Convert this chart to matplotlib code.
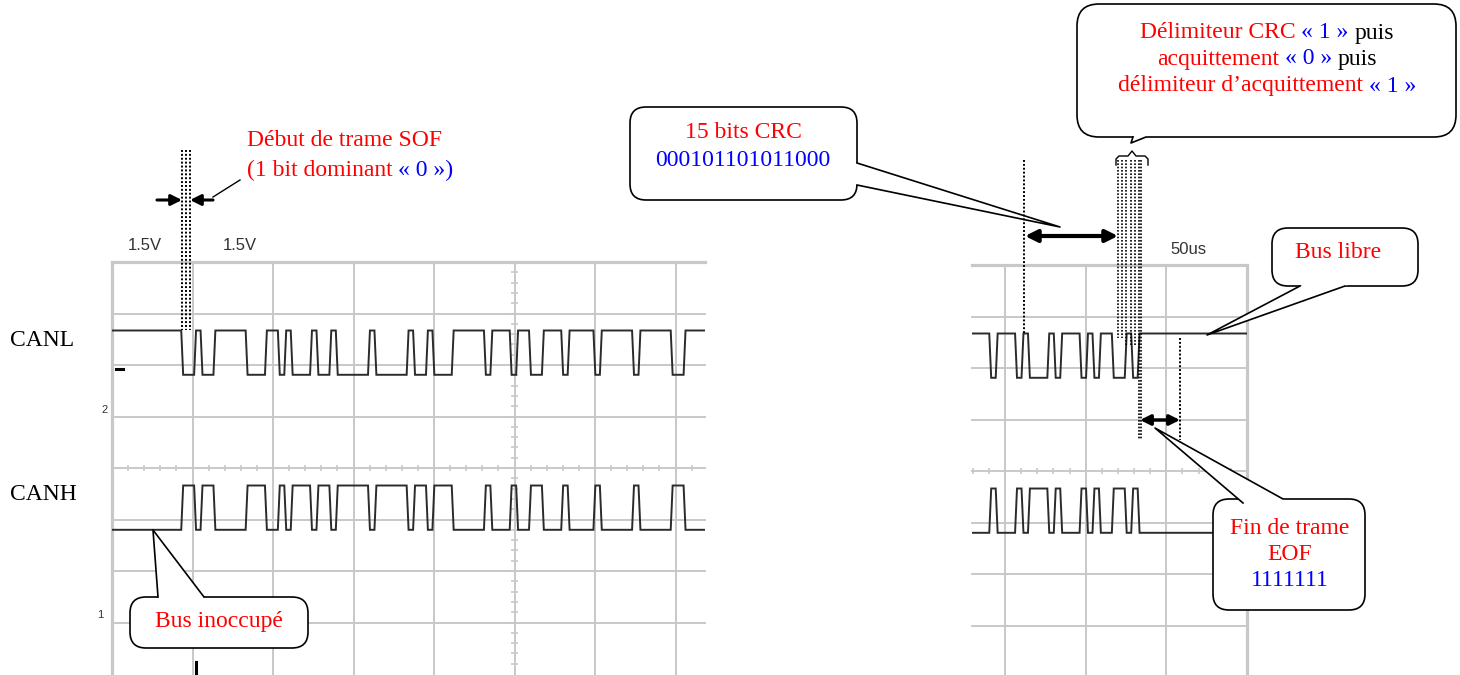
import matplotlib
matplotlib.use("Agg")
import matplotlib.pyplot as plt
import numpy as np
from matplotlib.patches import FancyBboxPatch, Polygon

# ---------------- data ----------------
US_PER_DIV = 50          # time base shown on the scope
BIT_US = 4.0             # one CAN bit
volt_labels = ["1.5V", "1.5V"]
time_label = "50us"
# logic bits (1 = recessive, 0 = dominant)
left_bits = "00 1 00 11111 000 11 0 1 000 1 00 1 00000 1 00000 1 00 1 000 11111 0 111 0 11 00 111 0 1111 0 11111 0 11111 00 111"
right_bits = "0 111 0 1 000 1 0 111 0 1 0 11 00 1 0 1111111 111"
left_sof_us = 43.0
right_start_us = 340.2
left_window_us = (0.0, 368.3)
right_window_us = (329.5, 500.0)
canl_rec, canl_dom = 6.67, 5.81     # divisions
canh_rec, canh_dom = 2.80, 3.66
crc_bits = "000101101011000"
eof_bits = "1111111"
signal_names = ["CANL", "CANH"]

# ---------------- figure ----------------
W, H = 1460, 675
fig = plt.figure(figsize=(W / 100, H / 100), dpi=100)
fig.patch.set_facecolor("white")
SERIF = ["Liberation Serif", "DejaVu Serif"]
SANS = ["Liberation Sans", "DejaVu Sans"]
GRID = "#c8c8c8"
TRACE = "#2b2b2b"
RED, BLUE = "#ff0000", "#0000ff"


def px_axes(x0, x1, ytop, ybot):
    a = fig.add_axes([x0 / W, 1 - ybot / H, (x1 - x0) / W, (ybot - ytop) / H])
    a.axis("off")
    return a


def build_trace(bits, t0, tmin, tmax, rec, dom, ramp=1.2):
    b = bits.replace(" ", "")
    ts, ys = [tmin], [rec]
    cur = rec
    for i, ch in enumerate(b):
        lv = rec if ch == "1" else dom
        t = t0 + i * BIT_US
        if lv != cur:
            ts += [t, t + ramp]
            ys += [cur, lv]
            cur = lv
    ts.append(tmax)
    ys.append(cur)
    return np.array(ts), np.array(ys)


def scope(ax, xr, ybot, borders):
    ax.set_xlim(*xr)
    ax.set_ylim(ybot, 8)
    for k in range(0, 11):
        x = k * US_PER_DIV
        if xr[0] - 1e-6 <= x <= xr[1] + 1e-6:
            lw = 2.3 if x in borders else 1.4
            ax.axvline(x, color=GRID, lw=lw, zorder=1, clip_on=False)
    for j in range(1, 9):
        lw = 2.3 if j == 8 else 1.4
        ax.axhline(j, color=GRID, lw=lw, zorder=1, clip_on=False)
    # minor ticks on centre axes
    tx = np.arange(0, 501, 10)
    tx = tx[(tx > xr[0]) & (tx < xr[1])]
    ax.vlines(tx, 4 - 0.065, 4 + 0.065, color=GRID, lw=1.2, zorder=1)
    if xr[0] < 250 < xr[1]:
        ty = np.arange(0.2, 8, 0.2)
        ax.hlines(ty, 250 - 1.9, 250 + 1.9, color=GRID, lw=1.2, zorder=1)


# left scope window
axL = px_axes(112, 705, 262, 675)
scope(axL, left_window_us, 8 - 413 / 51.5, borders=[0])
for rec, dom in [(canl_rec, canl_dom), (canh_rec, canh_dom)]:
    t, y = build_trace(left_bits, left_sof_us, left_window_us[0], left_window_us[1], rec, dom)
    axL.plot(t, y, color=TRACE, lw=1.4, zorder=3, solid_joinstyle="miter")

# right scope window
axR = px_axes(972, 1247, 265, 675)
scope(axR, right_window_us, 8 - 410 / 51.5, borders=[500])
for rec, dom in [(canl_rec, canl_dom), (canh_rec, canh_dom)]:
    t, y = build_trace(right_bits, right_start_us, right_window_us[0], right_window_us[1], rec, dom)
    axR.plot(t, y, color=TRACE, lw=1.4, zorder=3, solid_joinstyle="miter")

# ---------------- overlay in pixel coordinates ----------------
ov = fig.add_axes([0, 0, 1, 1], zorder=10)
ov.set_xlim(0, W)
ov.set_ylim(H, 0)
ov.axis("off")

# scope labels
ov.text(145, 246, volt_labels[0], fontsize=12, family=SANS, color="#333333", ha="center", va="center")
ov.text(240, 246, volt_labels[1], fontsize=12, family=SANS, color="#333333", ha="center", va="center")
ov.text(1188, 249, time_label, fontsize=12, family=SANS, color="#333333", ha="center", va="center")
ov.text(105, 410, "2", fontsize=8, family=SANS, color="#333333", ha="center", va="center")
ov.text(100, 615, "1", fontsize=8, family=SANS, color="#333333", ha="center", va="center")
ov.plot([116, 123], [369, 369], color="black", lw=2.2)
ov.plot([196, 196], [662, 675], color="black", lw=2.2)

ov.text(10, 340, signal_names[0], fontsize=17, family=SERIF, color="black", ha="left", va="center")
ov.text(10, 494, signal_names[1], fontsize=17, family=SERIF, color="black", ha="left", va="center")

renderer = fig.canvas.get_renderer()


def text_w(s, size):
    t = ov.text(0, 0, s, fontsize=size, family=SERIF)
    w = t.get_window_extent(renderer).width
    t.remove()
    return w


def rich_line(cx, y, pieces, size=17, align="center"):
    sp = text_w("a a", size) - text_w("aa", size)
    texts = [ov.text(0, y, s, color=c, fontsize=size, family=SERIF, ha="left", va="center", zorder=12)
             for s, c in pieces]
    widths = [t.get_window_extent(renderer).width for t in texts]
    total = sum(widths) + sp * (len(texts) - 1)
    x = cx - total / 2 if align == "center" else cx
    for t, w in zip(texts, widths):
        t.set_x(x)
        x += w + sp


def callout(x0, y0, x1, y1, base, tip, r=16):
    ov.add_patch(FancyBboxPatch((x0, y0), x1 - x0, y1 - y0,
                                boxstyle=f"round,pad=0,rounding_size={r}",
                                fc="white", ec="black", lw=1.2, zorder=5))
    (ax0, ay0), (ax1, ay1) = base
    mx, my = (ax0 + ax1) / 2, (ay0 + ay1) / 2
    n = np.array([mx - tip[0], my - tip[1]])
    n = n / np.hypot(*n) * 3
    ov.add_patch(Polygon([(ax0 + n[0], ay0 + n[1]), (ax0, ay0), tip, (ax1, ay1),
                          (ax1 + n[0], ay1 + n[1])], closed=True, fc="white", ec="none", zorder=6))
    ov.plot([ax0, tip[0], ax1], [ay0, tip[1], ay1], color="black", lw=1.2, zorder=7)


def dotted(x, y0, y1, lw=1.4):
    ov.plot([x, x], [y0, y1], color="black", lw=lw, ls=(0, (1, 1)), zorder=8)


def arrow(x0, y0, x1, y1, style="-|>", lw=2.2, ms=16):
    ov.annotate("", xy=(x1, y1), xytext=(x0, y0),
                arrowprops=dict(arrowstyle=style, lw=lw, color="black",
                                mutation_scale=ms, shrinkA=0, shrinkB=0), zorder=9)


Q1, Q0 = "\u00ab\u00a01\u00a0\u00bb", "\u00ab\u00a00\u00a0\u00bb"

# SOF annotation
for x in (182, 186, 190):
    dotted(x, 150, 330)
arrow(157, 200, 182, 200)
arrow(213, 200, 190, 200)
ov.plot([213, 240], [197, 180], color="black", lw=1.0)
rich_line(247, 140, [("D\u00e9but de trame SOF", RED)], align="left")
rich_line(247, 170, [("(1 bit dominant", RED), ("\u00ab\u00a00\u00a0\u00bb)", BLUE)], align="left")

# Bus inoccupé
callout(130, 597, 308, 648, [(158, 597), (204, 597)], (153, 530))
rich_line(219, 621, [("Bus inoccup\u00e9", RED)])

# 15 bits CRC
callout(630, 107, 857, 200, [(857, 163), (857, 185)], (1060, 227))
rich_line(743, 132, [("15 bits CRC", RED)])
rich_line(743, 160, [(crc_bits, BLUE)])
dotted(1024, 160, 335)
arrow(1025, 236, 1118, 236, style="<|-|>", lw=3, ms=18)

# delimiter callout
callout(1077, 4, 1456, 137, [(1133, 137), (1146, 137)], (1131, 143), r=22)
rich_line(1267, 33, [("D\u00e9limiteur CRC", RED), (Q1, BLUE), ("puis", "black")])
rich_line(1267, 59, [("acquittement", RED), (Q0, BLUE), ("puis", "black")])
rich_line(1267, 86, [("d\u00e9limiteur d\u2019acquittement", RED), (Q1, BLUE)])
ov.plot([1116, 1116, 1119, 1128, 1132, 1136, 1145, 1148, 1148],
        [165, 159, 156, 156, 151, 156, 156, 159, 165], color="black", lw=1.0)
for x, yb in [(1118, 338), (1122, 338), (1126, 345), (1131, 345), (1135, 345), (1139, 440), (1141, 440)]:
    dotted(x, 160, yb, lw=1.2)

# EOF
dotted(1180, 338, 440)
arrow(1140, 420, 1180, 420, style="<|-|>", lw=2.5, ms=15)
callout(1213, 499, 1365, 610, [(1243, 503), (1283, 499)], (1155, 428))
rich_line(1290, 528, [("Fin de trame", RED)])
rich_line(1290, 554, [("EOF", RED)])
rich_line(1290, 581, [(eof_bits, BLUE)])

# Bus libre
callout(1272, 228, 1418, 286, [(1300, 286), (1345, 286)], (1207, 335))
rich_line(1338, 253, [("Bus libre", RED)])

fig.savefig("out.png", dpi=100, facecolor="white")
